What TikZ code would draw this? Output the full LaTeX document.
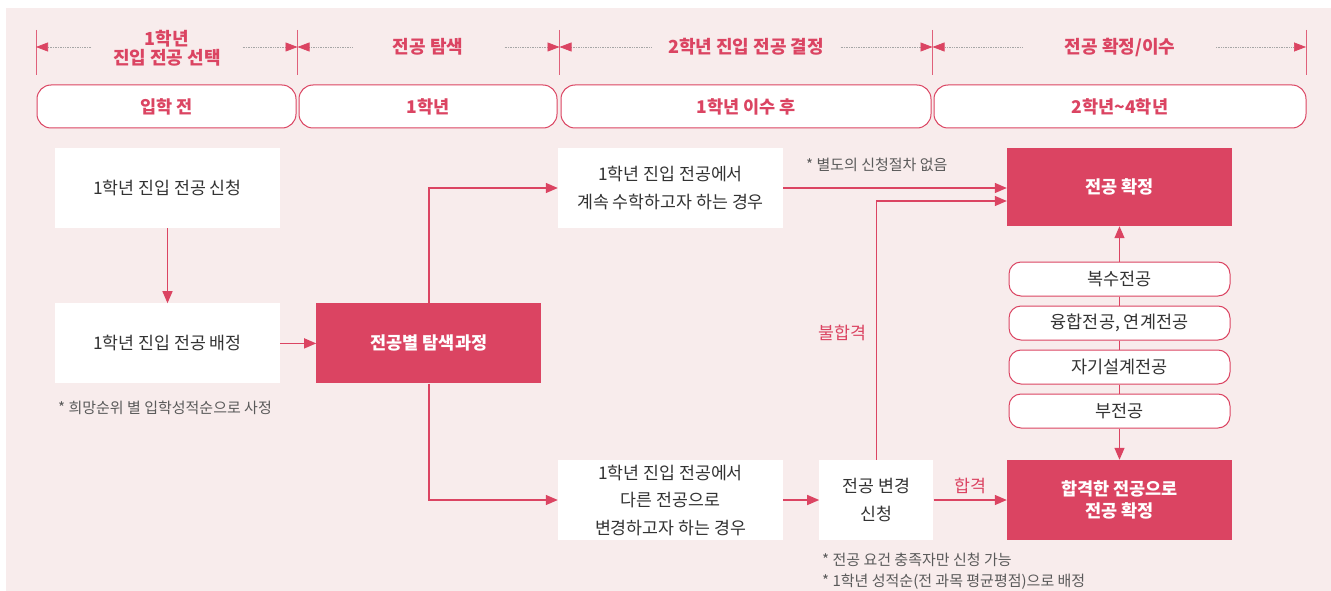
\documentclass[tikz,border=0pt]{standalone}
\usepackage{fontspec}
\setmainfont{Noto Sans CJK KR}
\usetikzlibrary{arrows.meta,positioning}
\definecolor{bgpink}{HTML}{F8ECEC}
\definecolor{mainred}{HTML}{DB4462}
\definecolor{textgray}{HTML}{333333}
\definecolor{notegray}{HTML}{5A5A5A}

\begin{document}
\begin{tikzpicture}[x=1pt, y=1pt, >={Triangle[length=12pt,width=10pt]}, node distance=75pt,
    every node/.style={font=\fontsize{17.3}{27.5}\selectfont, text=textgray},
    box/.style={fill=white, minimum width=225pt, minimum height=80pt, align=center, inner sep=0pt},
    redbox/.style={box, fill=mainred, text=white, font=\fontsize{17.5}{22.5}\selectfont\bfseries},
    pill/.style={draw=mainred, line width=1pt, rounded corners=12pt, fill=white,
                 minimum width=221pt, minimum height=34pt, inner sep=0pt, font=\fontsize{17.5}{20}\selectfont},
    phasebox/.style={draw=mainred, line width=1pt, rounded corners=14pt, fill=white, minimum height=43pt,
                 inner sep=0pt, text=mainred, font=\fontsize{17.5}{20}\selectfont\bfseries},
    hdr/.style={text=mainred, align=center, font=\fontsize{18}{20}\selectfont\bfseries},
    notetext/.style={text=notegray, anchor=west, inner sep=0pt, font=\fontsize{15}{17}\selectfont},
    flow/.style={->, draw=mainred, line width=1.3pt},
    tickline/.style={draw=mainred!85, line width=0.9pt},
    hdrarrow/.style={draw=gray!70, densely dotted, line width=0.7pt,
                 -{Triangle[length=12pt,width=9pt,color=mainred]}}]
      \fill[white] (0,0) rectangle (1331,-591);
      \fill[bgpink] (6,-8) rectangle (1331,-591);
      \useasboundingbox (0,0) rectangle (1331,-591);

      % timeline
      \foreach \x [count=\i] in {36,297.5,559.5,932.5,1306} {
        \draw[tickline] (\x,-30) -- (\x,-75);
        \coordinate (t\i) at (\x,-47);
      }
      \foreach \i/\j/\len in {1/2/55pt, 2/3/55pt, 3/4/92pt, 4/5/90pt} {
        \draw[hdrarrow] ([xshift=\len]t\i) -- (t\i);
        \draw[hdrarrow] ([xshift=-\len]t\j) -- (t\j);
      }
      \node[hdr] (h1) at (167,-48) {1학년\\[-1pt]진입 전공 선택};
      \node[hdr] (h2) at (428,-47) {전공 탐색};
      \node[hdr] (h3) at (746,-47) {2학년 진입 전공 결정};
      \node[hdr] (h4) at (1120,-47) {전공 확정/이수};

      \node[phasebox, minimum width=259pt] (p1) at (166.5,-106.5) {입학 전};
      \node[phasebox, minimum width=258pt] (p2) at (428,-106.5) {1학년};
      \node[phasebox, minimum width=370pt] (p3) at (746,-106.5) {1학년 이수 후};
      \node[phasebox, minimum width=372pt] (p4) at (1120,-106.5) {2학년\textasciitilde 4학년};

      % flow
      \node[box] (apply) at (167.5,-188) {1학년 진입 전공 신청};
      \node[box, below=of apply] (assign) {1학년 진입 전공 배정};
      \node[redbox, right=36pt of assign] (explore) {전공별 탐색과정};
      \node[box] (stay) at (670.5,-188) {1학년 진입 전공에서\\계속 수학하고자 하는 경우};
      \node[box] (change) at (670.5,-500) {1학년 진입 전공에서\\다른 전공으로\\변경하고자 하는 경우};
      \node[box, minimum width=114pt, right=36pt of change] (request) {전공 변경\\신청};
      \node[redbox, minimum height=78pt] (confirm) at (1119.5,-187) {전공 확정};
      \node[redbox] (passed) at (1119.5,-500) {합격한 전공으로\\전공 확정};

      \node[pill] (m1) at (1119.5,-279) {복수전공};
      \node[pill, below=9pt of m1] (m2) {융합전공, 연계전공};
      \node[pill, below=9pt of m2] (m3) {자기설계전공};
      \node[pill, below=9pt of m3] (m4) {부전공};

      \node[notetext] (n1) at (58,-408) {* 희망순위 별 입학성적순으로 사정};
      \node[notetext] (n2) at (806,-165) {* 별도의 신청절차 없음};
      \node[notetext] (n3) at (822,-560) {* 전공 요건 충족자만 신청 가능};
      \node[notetext] (n4) at (822,-582) {* 1학년 성적순(전 과목 평균평점)으로 배정};

      \draw[flow] (apply) -- (assign);
      \draw[flow] (assign) -- (explore);
      \draw[flow] (explore.north) |- (stay.west);
      \draw[flow] (explore.south) |- (change.west);
      \draw[flow] (stay.east) -- (stay.east -| confirm.west);
      \draw[flow] (change) -- (request);
      \draw[flow] (request.north) |- node[pos=0.245, left=6pt, text=mainred]{불합격} ([yshift=-14pt]confirm.west);
      \draw[flow] (request) -- node[above=2pt, text=mainred]{합격} (passed);
      \draw[flow] (m1) -- (confirm);
      \draw[mainred, line width=1.3pt] (m1) -- (m2) (m2) -- (m3) (m3) -- (m4);
      \draw[flow] (m4) -- (passed);
    \end{tikzpicture}
\end{document}
